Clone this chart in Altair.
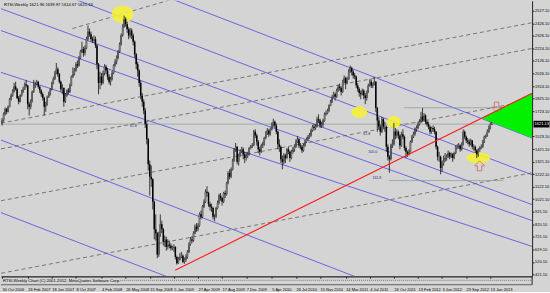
import altair as alt
import pandas as pd

# ---------------- data ----------------
START = "2006-10-30"
first_open = 1625
closes = [
    1650, 1700, 1740, 1720, 1760, 1820, 1850, 1880, 1921,
    1900, 1830, 1800, 1850, 1880, 1900, 1940, 1930, 1780, 1760, 1800, 1880, 1920, 1940, 1960, 1920,
    1890, 1860, 1830, 1760, 1780, 1840, 1860, 1900, 1950, 1980, 2030, 2060, 2020, 1960, 1900, 1910,
    1800, 1850, 1890, 1880, 1930, 2000, 2020, 2050, 2100, 2090, 2150, 2200, 2220, 2190, 2230, 2300,
    2360, 2340, 2300, 2290,
    2300, 2250, 2100, 1950, 2000, 1950, 2030, 2080, 2050, 2000, 1960, 1980, 2030, 2090, 2120, 2150,
    2200, 2260, 2330, 2400, 2460, 2420, 2380, 2330, 2370, 2330, 2280, 2180, 2100, 2050, 1950, 1850,
    1800, 1730, 1620, 1500, 1300, 1200, 1180, 1000, 780, 750, 580, 740, 820, 780, 680, 700, 640, 660,
    650, 630,
    632, 640, 560, 510, 540, 560, 570, 520, 540, 560, 600, 660, 700, 690, 750, 800, 780, 810, 900, 880,
    960, 1000, 1080, 1070, 980, 960, 950, 880, 880, 950, 990, 1050, 1030, 1000, 1070, 1060, 1150, 1230,
    1200, 1260, 1330, 1420, 1440, 1320, 1370, 1400, 1420, 1380, 1350, 1370, 1380, 1430, 1444,
    1450, 1560, 1530, 1480, 1420, 1400, 1450, 1460, 1510, 1550, 1570, 1540, 1580, 1620, 1640, 1610,
    1560, 1460, 1440, 1340, 1320, 1370, 1350, 1420, 1400, 1350, 1400, 1420, 1440, 1480, 1500, 1450,
    1440, 1410, 1450, 1480, 1500, 1520, 1530, 1570, 1600, 1590, 1600, 1660, 1650, 1610, 1620, 1650,
    1700, 1710, 1730, 1770,
    1800, 1840, 1860, 1840, 1890, 1920, 1910, 1880, 1960, 1990, 1950, 1980, 2040, 2070, 2040, 2010,
    2000, 1930, 1900, 1870, 1860, 1890, 1850, 1830, 1880, 1930, 1960, 1930, 1940, 1960, 1750, 1650,
    1600, 1560, 1660, 1600, 1600, 1440, 1360, 1340, 1450, 1460, 1560, 1530, 1560, 1530, 1450, 1540,
    1520, 1430, 1400, 1382,
    1400, 1480, 1520, 1540, 1580, 1590, 1620, 1640, 1680, 1650, 1690, 1640, 1620, 1600, 1560, 1590,
    1580, 1560, 1440, 1360, 1360, 1270, 1310, 1330, 1350, 1360, 1390, 1360, 1380, 1350, 1390, 1440,
    1440, 1450, 1420, 1460, 1560, 1520, 1490, 1480, 1460, 1490, 1440, 1440, 1410, 1380, 1420, 1430,
    1440, 1480, 1520, 1527,
    1560, 1590, 1622, 1621.13,
]
highs = [
    1670, 1715, 1755, 1750, 1770, 1830, 1865, 1900, 1950,
    1960, 1910, 1845, 1860, 1895, 1920, 1955, 1975, 1935, 1800, 1820, 1890, 1975, 1960, 1975, 1965,
    1930, 1900, 1875, 1840, 1800, 1850, 1880, 1910, 1960, 2000, 2045, 2110, 2075, 2030, 1970, 1940,
    1915, 1870, 1900, 1910, 1945, 2010, 2075, 2070, 2115, 2130, 2165, 2215, 2280, 2240, 2250, 2320,
    2410, 2385, 2360, 2320,
    2330, 2320, 2260, 2110, 2040, 2030, 2050, 2100, 2095, 2070, 2020, 2000, 2045, 2100, 2140, 2170,
    2215, 2275, 2345, 2420, 2488, 2475, 2440, 2395, 2390, 2385, 2345, 2290, 2190, 2120, 2060, 1970,
    1870, 1820, 1750, 1640, 1510, 1330, 1290, 1190, 1010, 900, 760, 760, 900, 850, 790, 730, 720, 700,
    690, 670,
    650, 660, 645, 570, 560, 590, 600, 580, 555, 580, 615, 675, 720, 725, 765, 820, 830, 830, 915, 930,
    975, 1020, 1100, 1125, 1080, 1000, 985, 960, 900, 960, 1010, 1065, 1070, 1040, 1080, 1090, 1160,
    1245, 1260, 1275, 1345, 1430, 1470, 1445, 1385, 1420, 1440, 1435, 1400, 1395, 1400, 1440, 1455,
    1470, 1575, 1580, 1545, 1495, 1440, 1465, 1480, 1520, 1565, 1590, 1580, 1595, 1635, 1665, 1650,
    1625, 1570, 1500, 1450, 1370, 1390, 1385, 1430, 1440, 1410, 1415, 1440, 1460, 1500, 1525, 1510,
    1470, 1455, 1465, 1495, 1515, 1535, 1550, 1585, 1615, 1625, 1620, 1680, 1700, 1665, 1640, 1665,
    1715, 1730, 1745, 1780,
    1815, 1855, 1880, 1875, 1905, 1935, 1945, 1925, 1975, 2010, 2000, 2000, 2060, 2090, 2080, 2055,
    2030, 2010, 1950, 1915, 1890, 1905, 1900, 1870, 1890, 1945, 1980, 1975, 1955, 2000, 1965, 1760,
    1680, 1620, 1680, 1670, 1640, 1610, 1460, 1375, 1465, 1500, 1630, 1590, 1580, 1570, 1540, 1560,
    1580, 1530, 1445, 1410,
    1420, 1490, 1535, 1560, 1595, 1610, 1640, 1660, 1720, 1750, 1710, 1700, 1650, 1640, 1610, 1600,
    1610, 1600, 1565, 1450, 1400, 1370, 1330, 1370, 1390, 1380, 1410, 1400, 1395, 1390, 1400, 1450,
    1460, 1470, 1460, 1475, 1580, 1570, 1530, 1510, 1500, 1505, 1495, 1460, 1450, 1420, 1430, 1445,
    1460, 1495, 1530, 1540,
    1580, 1610, 1635, 1639.97,
]
lows = [
    1610, 1640, 1690, 1700, 1715, 1755, 1810, 1840, 1875,
    1890, 1820, 1780, 1795, 1840, 1870, 1895, 1915, 1740, 1690, 1740, 1795, 1870, 1910, 1930, 1905,
    1870, 1840, 1810, 1690, 1720, 1770, 1830, 1850, 1890, 1940, 1975, 2020, 2000, 1945, 1880, 1860,
    1760, 1790, 1840, 1860, 1870, 1925, 1990, 2010, 2040, 2070, 2080, 2140, 2190, 2160, 2170, 2220,
    2290, 2320, 2280, 2270,
    2270, 2230, 2060, 1860, 1900, 1930, 1940, 2010, 2020, 1975, 1940, 1930, 1970, 2020, 2080, 2100,
    2140, 2190, 2250, 2320, 2390, 2400, 2350, 2300, 2310, 2300, 2250, 2150, 2060, 2000, 1920, 1820,
    1760, 1700, 1590, 1460, 1250, 1050, 1120, 940, 700, 690, 549, 560, 720, 750, 650, 640, 610, 620,
    630, 610,
    615, 600, 540, 498, 505, 530, 550, 510, 505, 520, 545, 590, 650, 670, 680, 740, 760, 765, 800, 860,
    870, 950, 990, 1040, 960, 930, 920, 860, 845, 870, 940, 980, 1010, 970, 990, 1030, 1050, 1140,
    1180, 1190, 1250, 1320, 1400, 1300, 1290, 1360, 1390, 1340, 1310, 1330, 1350, 1370, 1420,
    1430, 1445, 1510, 1450, 1390, 1370, 1390, 1430, 1450, 1500, 1535, 1520, 1530, 1570, 1600, 1590,
    1540, 1420, 1400, 1310, 1260, 1300, 1310, 1340, 1380, 1320, 1340, 1385, 1400, 1430, 1470, 1430,
    1420, 1390, 1400, 1440, 1470, 1490, 1505, 1520, 1560, 1570, 1575, 1595, 1630, 1590, 1590, 1600,
    1640, 1690, 1700, 1720,
    1765, 1790, 1830, 1810, 1830, 1880, 1890, 1850, 1870, 1950, 1900, 1940, 1975, 2030, 2010, 1985,
    1980, 1910, 1880, 1840, 1820, 1850, 1820, 1780, 1810, 1870, 1920, 1910, 1910, 1930, 1720, 1560,
    1580, 1530, 1550, 1580, 1560, 1400, 1330, 1233, 1330, 1430, 1450, 1500, 1510, 1500, 1420, 1440,
    1500, 1410, 1350, 1360,
    1370, 1395, 1470, 1510, 1530, 1560, 1580, 1610, 1630, 1640, 1640, 1620, 1600, 1580, 1540, 1545,
    1560, 1540, 1420, 1330, 1320, 1220, 1240, 1290, 1320, 1330, 1350, 1340, 1350, 1320, 1340, 1380,
    1420, 1425, 1400, 1410, 1450, 1500, 1470, 1460, 1440, 1450, 1420, 1410, 1390, 1350, 1360, 1400,
    1420, 1430, 1470, 1505,
    1520, 1550, 1580, 1614.67,
]

# y-axis tick labels and x-axis label dates
price_ticks = [421.10, 520.10, 619.10, 721.10, 820.10, 921.10, 1021.10, 1122.10, 1222.10, 1321.10,
               1421.10, 1523.10, 1723.10, 1825.10, 1924.10, 2026.10, 2126.10, 2224.10, 2326.10,
               2426.10, 2527.10]
date_ticks = ["2006-10-30", "2007-02-26", "2007-06-18", "2007-10-08", "2008-02-04", "2008-05-26",
              "2008-09-15", "2009-01-05", "2009-04-27", "2009-08-17", "2009-12-07", "2010-04-05",
              "2010-07-26", "2010-11-15", "2011-03-14", "2011-07-04", "2011-10-24", "2012-02-13",
              "2012-06-03", "2012-09-23", "2013-01-13"]

# drawn objects (analysis lines) - endpoints in date / price
LEFT, RIGHT = "2006-10-25", "2013-07-27"
blue_left = [3148, 2846, 2544, 2369, 2035, 1494, 914]
blue_right = [1510, 1216, 978, 850, 644, -143, -724]
# dashed rising channel lines: (start date, start price, end date, end price)
dash_segs = [("2007-09-22", 2385, RIGHT, 3466),
             (LEFT, 1629, RIGHT, 2432),
             (LEFT, 1423, RIGHT, 2226),
             (LEFT, 1009, RIGHT, 1812),
             (LEFT, 429, RIGHT, 1232)]
red_start = ("2009-01-11", 453)
red_end = (RIGHT, 1868)
green_apex = ("2012-12-04", 1669)
green_right = (RIGHT, 1868, 1510)
hlines = [(LEFT, RIGHT, 1621.13), ("2011-12-10", "2013-04-08", 1752),
          ("2011-10-01", "2013-03-16", 1170)]
ellipses = [("2008-05-12", 2500, 11, 0.8), ("2011-05-16", 1717, 8, 0.7),
            ("2011-10-24", 1638, 7, 0.85), ("2012-11-19", 1351, 12, 0.45)]
arrows_up = [("2012-11-25", 1288)]
arrows_down = [("2013-02-12", 1757)]
fib_labels = [("2008-06-30", 1606, "61.8"), ("2011-06-20", 1542, "61.8"),
              ("2011-07-18", 1399, "100.0"), ("2011-08-06", 1192, "161.8")]
header = "RTSI,Weekly  1621.96 1639.97 1614.67 1621.13"
footer = "RTSI,Weekly Chart (C) 2001-2012, MetaQuotes Software Corp."
last_price = 1621.13

# ---------------- frames ----------------
dates = pd.date_range(START, periods=len(closes), freq="7D").strftime("%Y-%m-%d")
opens = [first_open] + closes[:-1]
bars = pd.DataFrame({"date": dates, "open": opens, "high": highs, "low": lows, "close": closes})
bars["dir"] = ["up" if c >= o else "down" for o, c in zip(opens, closes)]
ups = bars[bars["dir"] == "up"]

rows = []
for i, (a, b) in enumerate(zip(blue_left, blue_right)):
    rows += [{"id": f"b{i}", "date": LEFT, "price": a}, {"id": f"b{i}", "date": RIGHT, "price": b}]
blue_df = pd.DataFrame(rows)
rows = []
for i, (d1, p1, d2, p2) in enumerate(dash_segs):
    rows += [{"id": f"d{i}", "date": d1, "price": p1}, {"id": f"d{i}", "date": d2, "price": p2}]
dash_df = pd.DataFrame(rows)
rows = []
for i, (d1, d2, p) in enumerate(hlines):
    rows += [{"id": f"h{i}", "date": d1, "price": p}, {"id": f"h{i}", "date": d2, "price": p}]
h_df = pd.DataFrame(rows)
red_df = pd.DataFrame({"date": [red_start[0], red_end[0]], "price": [red_start[1], red_end[1]]})
green_df = pd.DataFrame({"date": [green_apex[0], green_right[0]],
                         "top": [green_apex[1], green_right[1]],
                         "bot": [green_apex[1], green_right[2]]})
ell_df = pd.DataFrame({
    "date": [e[0] for e in ellipses], "price": [e[1] for e in ellipses],
    "size": [(2 * e[2]) ** 2 for e in ellipses],
    "shape": [f"M-1,0 A1,{e[3]} 0 1,1 1,0 A1,{e[3]} 0 1,1 -1,0 Z" for e in ellipses]})
up_df = pd.DataFrame({"date": [a[0] for a in arrows_up], "price": [a[1] for a in arrows_up]})
dn_df = pd.DataFrame({"date": [a[0] for a in arrows_down], "price": [a[1] for a in arrows_down]})
fib_df = pd.DataFrame({"date": [f[0] for f in fib_labels], "price": [f[1] for f in fib_labels],
                       "label": [f[2] for f in fib_labels]})

FONT = "Liberation Sans"
xdom = [alt.DateTime(year=2006, month=10, date=25), alt.DateTime(year=2013, month=7, date=27)]
xs = alt.Scale(domain=xdom)
ys = alt.Scale(domain=[405, 2607], nice=False, zero=False)

x_axis = alt.Axis(values=[alt.DateTime(year=int(d[:4]), month=int(d[5:7]), date=int(d[8:]))
                          for d in date_ticks],
                  labelExpr="timeFormat(datum.value, '%-d %b %Y')", labelAlign="left",
                  labelFontSize=4, labelFont=FONT, labelColor="black", labelPadding=9,
                  tickSize=2, tickColor="#333", domainColor="#222", domainWidth=1.2,
                  grid=False, title=None, labelOverlap=False, labelFlush=False)
y_axis = alt.Axis(orient="right", values=price_ticks, format=".2f", labelFontSize=4,
                  labelFont=FONT, labelColor="black", labelPadding=0.5, tickSize=2,
                  tickColor="#333", domainColor="#222", grid=False, title=None,
                  labelOverlap=False, labelFlush=False, labelBaseline="middle")

X = alt.X("date:T", scale=xs, axis=x_axis, title=None)


def Yf(field):
    return alt.Y(f"{field}:Q", scale=ys, axis=y_axis, title=None)


blue = alt.Chart(blue_df).mark_line(color="#4b4be6", strokeWidth=0.8, clip=True).encode(
    x=X, y=Yf("price"), detail="id:N")
dashed = alt.Chart(dash_df).mark_line(color="#5c5c5c", strokeWidth=0.8, strokeDash=[4, 3],
                                      clip=True).encode(x=X, y=Yf("price"), detail="id:N")
hl = alt.Chart(h_df).mark_line(color="#8c9696", strokeWidth=0.7, clip=True).encode(
    x=X, y=Yf("price"), detail="id:N")
ell = alt.Chart(ell_df).mark_point(filled=True, color="#f4f03a", opacity=0.9, clip=True).encode(
    x=X, y=Yf("price"), size=alt.Size("size:Q", scale=None, legend=None),
    shape=alt.Shape("shape:N", scale=None, legend=None))
wick = alt.Chart(bars).mark_rule(color="#111", strokeWidth=0.8, clip=True).encode(
    x=X, y=Yf("low"), y2="high:Q")
body = alt.Chart(bars).mark_rule(color="#000", strokeWidth=1.5, clip=True).encode(
    x=X, y=Yf("open"), y2="close:Q")
body_up = alt.Chart(ups).mark_rule(color="#ffffff", strokeWidth=0.5, clip=True).encode(
    x=X, y=Yf("open"), y2="close:Q")
green = alt.Chart(green_df).mark_area(color="#00f000", opacity=1, clip=True).encode(
    x=X, y=Yf("top"), y2="bot:Q")
red = alt.Chart(red_df).mark_line(color="#ff1a1a", strokeWidth=1.1, clip=True).encode(
    x=X, y=Yf("price"))
up_arr = alt.Chart(up_df).mark_point(
    shape="M-0.45,1 L-0.45,0 L-1,0 L0,-1 L1,0 L0.45,0 L0.45,1 Z", size=100, filled=False,
    color="#c8463c", strokeWidth=0.9).encode(x=X, y=Yf("price"))
dn_arr = alt.Chart(dn_df).mark_point(
    shape="M-0.45,-1 L-0.45,0 L-1,0 L0,1 L1,0 L0.45,0 L0.45,-1 Z", size=100, filled=False,
    color="#c8463c", strokeWidth=0.9).encode(x=X, y=Yf("price"))
fib = alt.Chart(fib_df).mark_text(fontSize=3.6, font=FONT, color="#2a2a80", align="center").encode(
    x=X, y=Yf("price"), text="label:N")

head = alt.Chart(pd.DataFrame({"t": [header]})).mark_text(
    fontSize=4.2, font=FONT, color="black", align="left", baseline="top").encode(
    x=alt.value(3), y=alt.value(2), text="t:N")
foot = alt.Chart(pd.DataFrame({"t": [footer]})).mark_text(
    fontSize=4.2, font=FONT, color="black", align="left", baseline="middle", clip=False).encode(
    x=alt.value(2), y=alt.value(281.5), text="t:N")
sub_dots = alt.Chart(pd.DataFrame({"k": [0]})).mark_rule(
    color="#777", strokeWidth=1, strokeDash=[1, 1], clip=False).encode(
    x=alt.value(120), x2=alt.value(534), y=alt.value(281))
sub_line = alt.Chart(pd.DataFrame({"k": [0]})).mark_rule(color="#444", strokeWidth=0.8).encode(
    x=alt.value(0), x2=alt.value(534), y=alt.value(285.5))
sub_vline = alt.Chart(pd.DataFrame({"k": [0]})).mark_rule(color="#222", strokeWidth=1).encode(
    x=alt.value(534), y=alt.value(277), y2=alt.value(285.5))
lp = pd.DataFrame({"price": [last_price], "t": [f"{last_price:.2f}"]})
price_box = alt.Chart(lp).mark_point(
    shape="M-1,-0.42 L1,-0.42 L1,0.42 L-1,0.42 Z", size=256, filled=True, color="black",
    opacity=1, clip=False).encode(x=alt.value(543.5), y=Yf("price"))
price_txt = alt.Chart(lp).mark_text(fontSize=4, font=FONT, color="white", align="left",
                                    baseline="middle", clip=False).encode(
    x=alt.value(536.5), y=Yf("price"), text="t:N")

chart = alt.layer(
    blue, dashed, hl, ell, wick, body, body_up, green, red, up_arr, dn_arr, fib, head, foot,
    sub_dots, sub_line, sub_vline, price_box, price_txt
).properties(
    width=534, height=277, padding=0,
).configure(background="#d4d4d4").configure_view(stroke=None, fill="#d4d4d4")

chart.save("out.html", embed_options={"renderer": "svg", "actions": False})
